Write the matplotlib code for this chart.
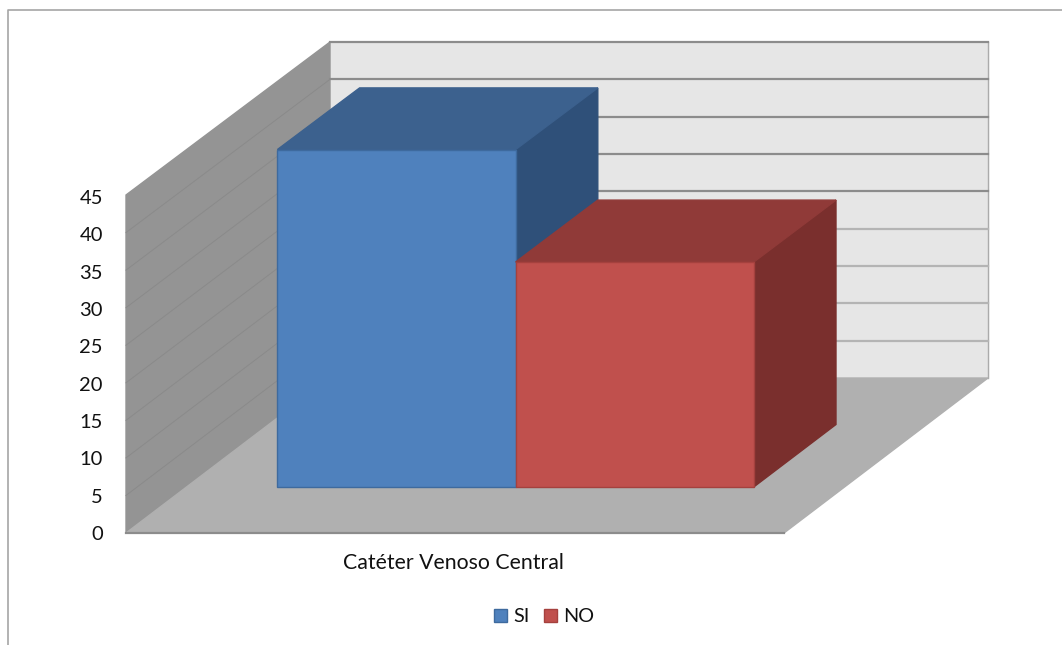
import matplotlib
matplotlib.use("Agg")
import matplotlib.pyplot as plt
from matplotlib.patches import Polygon, Rectangle

plt.rcParams["font.family"] = ["Lato", "DejaVu Sans"]

# Data
categories = ["Catéter Venoso Central"]
series_names = ["SI", "NO"]
series_values = [45, 30]
y_ticks = [0, 5, 10, 15, 20, 25, 30, 35, 40, 45]

# Colours of the 3D faces
FRONT = ["#4f81bd", "#c0504d"]
TOP = ["#3c618e", "#903a38"]
SIDE = ["#2f5079", "#7a2f2d"]
EDGE = ["#3e6a9e", "#a5413e"]


def project(x, value, depth):
    """x in category widths, value on the y axis, depth from 0 (front) to 1 (back wall)."""
    px = 126 + x * 658 + depth * 204
    # slight perspective: the back wall is a little shorter than the front edge
    py = 533 - value * (338 - 2 * depth) / 45 - depth * 155
    return px, py


def face(ax, points, color, edge=None, zorder=2):
    ax.add_patch(Polygon(points, closed=True, facecolor=color,
                         edgecolor=edge or color, linewidth=1.0, zorder=zorder))


def main():
    fig = plt.figure(figsize=(10.62, 6.45), dpi=100)
    ax = fig.add_axes([0, 0, 1, 1])
    ax.set_xlim(0, 1062)
    ax.set_ylim(645, 0)
    ax.axis("off")

    # Outer chart frame, cut by the image on the right and bottom
    ax.plot([8, 8, 1062], [645, 10, 10], color="#a6a6a6", lw=1.2, zorder=1)

    # Walls and floor
    top = y_ticks[-1]
    face(ax, [project(0, 0, 1), project(1, 0, 1), project(1, top, 1), project(0, top, 1)], "#e6e6e6")
    face(ax, [project(0, 0, 0), project(0, 0, 1), project(0, top, 1), project(0, top, 0)], "#949494")
    face(ax, [project(0, 0, 0), project(1, 0, 0), project(1, 0, 1), project(0, 0, 1)], "#b0b0b0")
    ax.plot(*zip(project(1, 0, 1), project(1, top, 1)), color="#ababab", lw=1, zorder=3)

    # Gridlines
    for tick in y_ticks[1:]:
        shade = "#8c8c8c" if tick >= 25 else "#b4b4b4"
        xs, ys = zip(project(0, tick, 1), project(1, tick, 1))
        ax.plot(xs, ys, color=shade, lw=1.6, zorder=3)
        if tick < top:
            xs, ys = zip(project(0, tick, 0), project(0, tick, 1))
            ax.plot(xs, ys, color="#8a8a8a", lw=0.7, zorder=3)
    ax.plot(*zip(project(0, 0, 0), project(1, 0, 0)), color="#8c8c8c", lw=1.6, zorder=3)

    # Bars, left to right so the lower one overlaps the taller one's side
    gap = 0.138
    width = (1 - 2 * gap) / len(series_values)
    d0, d1 = 0.297, 0.70
    for i, value in enumerate(series_values):
        x0 = gap + i * width
        x1 = x0 + width
        z = 5 + i
        face(ax, [project(x1, 0, d0), project(x1, 0, d1), project(x1, value, d1), project(x1, value, d0)],
             SIDE[i], zorder=z)
        face(ax, [project(x0, value, d0), project(x1, value, d0), project(x1, value, d1), project(x0, value, d1)],
             TOP[i], zorder=z)
        face(ax, [project(x0, 0, d0), project(x1, 0, d0), project(x1, value, d0), project(x0, value, d0)],
             FRONT[i], edge=EDGE[i], zorder=z)

    # Axis labels
    for tick in y_ticks:
        ax.text(103, 534.5 - tick * 336 / 45, str(tick), ha="right", va="center",
                fontsize=14.5, color="#111111")
    ax.text(453.5, 563, categories[0], ha="center", va="center", fontsize=15.3, color="#111111")

    # Legend
    for x_box, x_text, name, color, edge in zip([494, 544], [513, 563], series_names, FRONT, EDGE):
        ax.add_patch(Rectangle((x_box, 609), 13, 13, facecolor=color, edgecolor=edge, lw=1, zorder=5))
        ax.text(x_text, 616.5, name, ha="left", va="center", fontsize=14.3, color="#111111")

    fig.savefig("out.png", dpi=100)


if __name__ == "__main__":
    main()
